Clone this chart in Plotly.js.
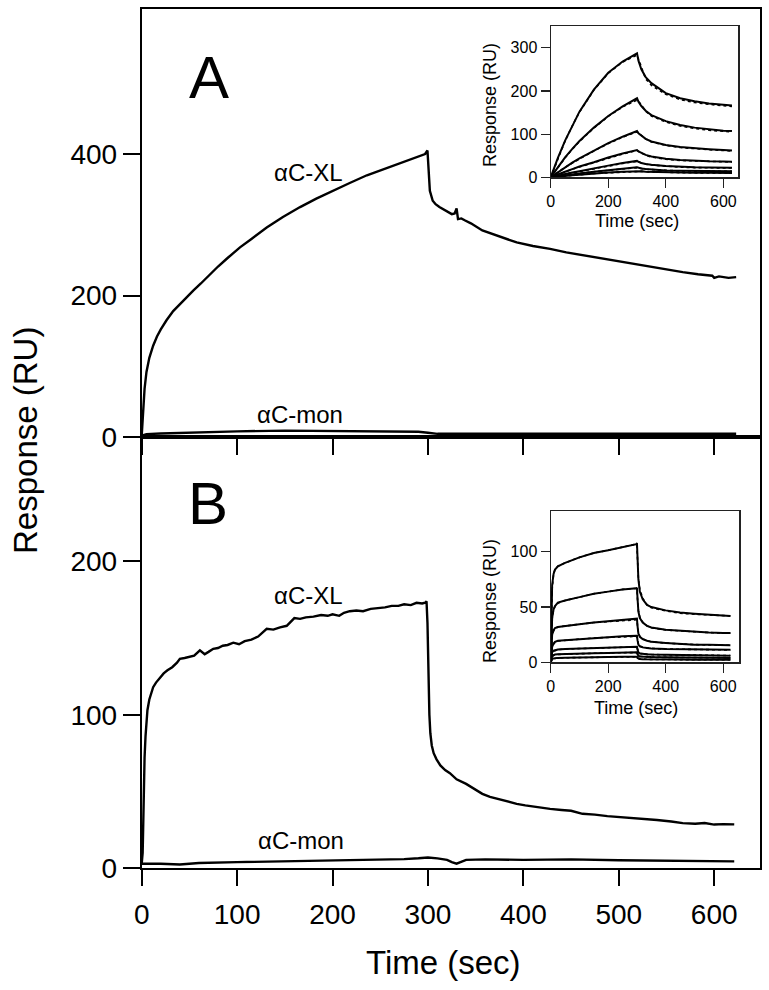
<!DOCTYPE html>
<html>
<head>
<meta charset="utf-8">
<script src="https://cdn.plot.ly/plotly-3.0.1.min.js"></script>
<style>html,body{margin:0;padding:0;background:#fff;}#chart{width:769px;height:990px;}</style>
</head>
<body>
<div id="chart"></div>
<script>
// ---------- Panel A (main) ----------
const timeA_XL = [0,0.5,1,2,3,5,8,12,16,20,26,33,40,47,54,62,70,80,90,103,115,131,148,166,183,200,218,236,252,269,280,290,297,299.5,300.5,302,305,308,312,318,325,328,330,331.5,335,339,345,357,375,393,410,428,445,462,488,515,540,567,583,598,600,605,615,623];
const respA_XL = [2,12,28,50,68,92,112,129,142,152,165,178,188,198,207,217,228,241,253,268,280,296,311,325,337,348,359,370,378,386,391,396,400,405,372,348,334,329,325,320,315,316,323,308,309,306,302,292,283,275,270,266,261,257,251,245,239,233,230,228,225,227,225,226];
const timeA_mon = [0,5,20,50,100,150,200,250,290,300,310,350,400,450,500,550,600,623];
const respA_mon = [2,4,5,6.5,8,9,8.5,8,7.5,6,4.5,4.5,4.5,4.8,4.5,4.8,4.5,4.5];

// ---------- Panel B (main) ----------
const timeB_XL = [0,0.5,1,1.5,2,2.5,3,4,5,6,8,10,12,15,19,23,27,32,37,40,45,50,55,61,66,70,75,80,85,90,96,102,108,115,122,131,138,145,152,160,166,172,180,188,195,200,207,212,218,225,232,240,248,255,262,269,275,282,288,294,297,298.5,299.5,300.5,301.5,302.5,304,306,309,313,318,323,330,340,348,357,365,375,385,393,402,412,428,440,450,462,475,488,500,515,528,540,555,567,580,590,600,610,621];
const respB_XL = [3,5,10,25,45,60,72,86,96,103,110,114,118,121,124,127,129,131,134,136.5,137,138,138.5,142,139.5,141,143,143.5,145,145.5,147,146,148,149,151,156,155.5,157,158,163,162.5,163.5,164,165,164.5,165.5,164.5,166.5,167.5,168,167.5,169,169.5,170,171,171,172,171.5,173,172.5,173,174,160,120,100,88,80,75,71,67,64,62,58,55,52,48.5,46.5,45,43,42,41,40,38.7,38,37.5,35.5,35,34,33.5,32.5,32,31.5,30.5,29.4,29,29.5,28.5,28.8,28.6];
const timeB_mon = [0,20,40,60,100,150,200,250,275,290,300,310,320,325,330,340,360,400,450,500,550,600,621];
const respB_mon = [3,3,2.5,3.5,4,4.5,5,5.5,6,6.5,7,6.5,5.5,4,3,5.5,5.8,5.5,5.8,5.2,5,4.8,4.5];

// ---------- Inset A: sensorgrams (solid) and fits (dotted) ----------
const timeInsetA = [0,25,50,75,100,150,200,250,300,305,315,330,350,400,450,500,550,600,630];
const insetA_data = [
  [0,45,85,120,152,203,242,268,287,270,250,232,218,195,183,176,171,168,166],
  [0,24,46,66,84,115,142,164,183,175,165,154,144,130,121,115,111,108,107],
  [0,12,24,34,44,62,79,94,107,102,96,89,83,75,70,67,65,63,62],
  [0,7,13,19,25,35,46,55,63,60,56,52,48,43,40,38,37,36.5,36],
  [0,4,8,11,14,21,27,33,38,36,33,31,29,26,24,23,22.5,22,22],
  [0,2.5,5,7,9,13,17,20,23,22,20.5,19,18,16,15,14.5,14,14,14],
  [0,2,3.5,5,6,9,11,13,15,14.5,14,13,12.5,11.5,11,10.5,10.3,10,10]
];
const insetA_fit = [
  [0,44,84,119,151,202,241,267,283,274,254,228,213,192,180,173,169,166,164],
  [0,23,45,65,83,114,141,163,179,177,167,153,142,128,119,113,109,106,105],
  [0,12,23,33,43,61,78,93,105,103,97,89,82,74,69,66,64,62,61],
  [0,6.5,12.5,18.5,24,34,45,54,62,60,56,51,47,42,39,37.5,36.5,36,35.5],
  [0,4,7.5,10.5,13.5,20,26,32,37,36,33,30.5,28.5,25.5,23.5,22.5,22,21.5,21.5],
  [0,2.5,4.8,6.8,8.8,12.8,16.5,19.8,22.5,22,20.3,18.8,17.8,15.8,14.8,14.3,13.9,13.8,13.8],
  [0,1.8,3.4,4.8,5.8,8.8,10.8,12.8,14.8,14.4,13.8,12.9,12.3,11.3,10.8,10.4,10.2,10,9.9]
];

// ---------- Inset B ----------
const timeInsetB = [0,2,5,10,15,25,50,100,150,200,250,298,300,302,305,310,320,335,350,400,450,500,550,600,625];
const insetB_data = [
  [0,40,70,80,84,87,90,95,99,101.5,104.5,107,108,95,75,64,57,52,50,47,45,44,43,42.5,42],
  [0,22,40,48,51,54,56,59,62,64,66,67,67.5,58,46,40,36,33,31.5,29.5,28.5,27.5,27,26.5,26.5],
  [0,14,25,29,31,32,33,34.5,36,37,38,39,39.5,33,26,23,21,19.5,18.5,17.5,16.5,16,15.8,15.5,15.5],
  [0,8,14,17,18.5,19.5,20,21,22,22.5,23.5,24,24,20,16,14.5,13.5,13,12.5,12,11.8,11.5,11.5,11.3,11.3],
  [0,5,9,10.5,11,11.5,12,12.5,13,13.5,14,14,14,11.5,9,8,7.5,7.2,7,6.8,6.5,6.5,6.3,6.2,6],
  [0,3,5.5,6.5,7,7.2,7.5,8,8.2,8.5,8.8,9,9,7.5,6,5.2,5,4.8,4.7,4.5,4.3,4.2,4.2,4.1,4],
  [0,2,3,3.5,3.8,4,4.2,4.5,4.7,4.8,5,5,5,4,3.3,3,2.8,2.7,2.6,2.5,2.5,2.4,2.4,2.3,2.3]
];
const insetB_fit = [
  [0,38,66,80,84,87,90,95,99,101.5,104.5,107,105,92,76,66,58,52,49.5,46.5,44.5,43.5,42.7,42.3,42],
  [0,21,39,47.5,50.5,53.5,56,59,62,64,66,67,66,57,47,41,36.5,33,31.3,29.3,28.3,27.4,26.9,26.5,26.4],
  [0,13,24,28.5,30.5,32,33,34.5,36,37,38,39,38.5,33,27,23.5,21.2,19.6,18.6,17.4,16.5,16,15.7,15.5,15.4],
  [0,7.5,13.5,16.5,18,19.3,20,21,22,22.5,23.3,24,23.5,20,16.5,14.8,13.7,13,12.6,12,11.7,11.5,11.4,11.3,11.2],
  [0,4.8,8.6,10.2,10.8,11.4,12,12.5,13,13.4,13.8,14,13.8,11.6,9.3,8.2,7.6,7.2,7,6.8,6.5,6.4,6.3,6.2,6.1],
  [0,2.8,5.2,6.3,6.8,7.1,7.4,7.9,8.2,8.5,8.7,8.9,8.8,7.6,6.2,5.4,5.1,4.9,4.7,4.5,4.3,4.2,4.2,4.1,4],
  [0,1.8,2.9,3.4,3.7,3.9,4.1,4.4,4.6,4.8,4.9,5,4.9,4.1,3.4,3.1,2.9,2.7,2.6,2.5,2.5,2.4,2.4,2.3,2.3]
];

// ---------- labels ----------
const panelLabels = ['A','B'];
const seriesLabels = ['αC-XL','αC-mon'];
const axisTitleY = 'Response (RU)';
const axisTitleX = 'Time (sec)';
const mainTicksX = [0,100,200,300,400,500,600];
const mainTicksYA = [0,200,400];
const mainTicksYB = [0,100,200];
const insetTicksX = [0,200,400,600];
const insetTicksYA = [0,100,200,300];
const insetTicksYB = [0,50,100];

const FONT = 'Liberation Sans, Arial, Helvetica, sans-serif';
const W = 769, H = 990;
const px = v => v / W;
const py = v => 1 - v / H;

const traces = [];
function line(x, y, xa, ya, width, dash) {
  traces.push({x: x, y: y, xaxis: xa, yaxis: ya, type: 'scatter', mode: 'lines',
    line: {color: '#000', width: width, dash: dash || 'solid'}, hoverinfo: 'skip', showlegend: false});
}
line(timeA_XL, respA_XL, 'x', 'y', 2.4);
line(timeA_mon, respA_mon, 'x', 'y', 2.4);
line(timeB_XL, respB_XL, 'x2', 'y2', 2.4);
line(timeB_mon, respB_mon, 'x2', 'y2', 2.4);
insetA_data.forEach(s => line(timeInsetA, s, 'x3', 'y3', 2));
insetA_fit.forEach(s => line(timeInsetA, s, 'x3', 'y3', 1.6, 'dot'));
insetB_data.forEach(s => line(timeInsetB, s, 'x4', 'y4', 2));
insetB_fit.forEach(s => line(timeInsetB, s, 'x4', 'y4', 1.6, 'dot'));

const mainX = {
  domain: [px(141.7), px(760)], range: [0, 648], showline: true, linewidth: 2, linecolor: '#000',
  mirror: true, ticks: 'outside', ticklen: 16, tickwidth: 2, tickcolor: '#000',
  tickvals: mainTicksX, showgrid: false, zeroline: false, fixedrange: true,
  tickfont: {family: FONT, size: 28, color: '#000'}
};
function ann(text, x, y, size, angle) {
  return {text: text, xref: 'paper', yref: 'paper', x: px(x), y: py(y), xanchor: 'center', yanchor: 'middle',
    textangle: angle || 0, showarrow: false, font: {family: FONT, size: size, color: '#000'}};
}
const layout = {
  width: W, height: H, margin: {l: 0, r: 0, t: 0, b: 0},
  paper_bgcolor: '#fff', plot_bgcolor: 'rgba(0,0,0,0)', showlegend: false,
  font: {family: FONT, color: '#000'},
  xaxis: Object.assign({}, mainX, {anchor: 'y', showticklabels: false}),
  yaxis: {domain: [py(437), py(9)], range: [0, 605], anchor: 'x', showline: true, linewidth: 2, linecolor: '#000',
    mirror: true, ticks: 'outside', ticklen: 17, tickwidth: 2, tickcolor: '#000', tickvals: mainTicksYA,
    showgrid: false, zeroline: false, tickfont: {family: FONT, size: 28, color: '#000'}},
  xaxis2: Object.assign({}, mainX, {anchor: 'y2', ticklabelstandoff: 4}),
  yaxis2: {domain: [py(868.3), py(437)], range: [0, 281], anchor: 'x2', showline: true, linewidth: 2, linecolor: '#000',
    mirror: true, ticks: 'outside', ticklen: 17, tickwidth: 2, tickcolor: '#000', tickvals: mainTicksYB,
    showgrid: false, zeroline: false, tickfont: {family: FONT, size: 28, color: '#000'}},
  xaxis3: {domain: [px(550.7), px(738.3)], range: [0, 652], anchor: 'y3', showline: true, linewidth: 1.2, linecolor: '#222',
    mirror: true, ticks: 'outside', ticklen: 9, tickwidth: 1.2, tickcolor: '#222', tickvals: insetTicksX,
    showgrid: false, zeroline: false, tickfont: {family: FONT, size: 16, color: '#000'}},
  yaxis3: {domain: [py(177.3), py(25.7)], range: [0, 351], anchor: 'x3', showline: true, linewidth: 1.2, linecolor: '#222',
    mirror: true, ticks: 'outside', ticklen: 9, tickwidth: 1.2, tickcolor: '#222', tickvals: insetTicksYA,
    showgrid: false, zeroline: false, tickfont: {family: FONT, size: 16, color: '#000'}},
  xaxis4: {domain: [px(550.7), px(739.3)], range: [0, 656], anchor: 'y4', showline: true, linewidth: 1.2, linecolor: '#222',
    mirror: true, ticks: 'outside', ticklen: 9, tickwidth: 1.2, tickcolor: '#222', tickvals: insetTicksX,
    showgrid: false, zeroline: false, tickfont: {family: FONT, size: 16, color: '#000'}},
  yaxis4: {domain: [py(662.3), py(511)], range: [0, 137], anchor: 'x4', showline: true, linewidth: 1.2, linecolor: '#222',
    mirror: true, ticks: 'outside', ticklen: 9, tickwidth: 1.2, tickcolor: '#222', tickvals: insetTicksYB,
    showgrid: false, zeroline: false, tickfont: {family: FONT, size: 16, color: '#000'}},
  annotations: [
    ann(panelLabels[0], 209, 78, 60),
    ann(panelLabels[1], 207.5, 503, 60),
    ann(seriesLabels[0], 308, 172, 24),
    ann(seriesLabels[1], 300, 414, 24),
    ann(seriesLabels[0], 308, 595, 24),
    ann(seriesLabels[1], 301, 840, 24),
    ann(axisTitleY, 25, 441, 33, -90),
    ann(axisTitleX, 443, 962, 33),
    ann(axisTitleY, 490, 105, 18, -90),
    ann(axisTitleX, 637, 221, 18),
    ann(axisTitleY, 490, 601, 18, -90),
    ann(axisTitleX, 636, 708, 18)
  ]
};
Plotly.newPlot('chart', traces, layout, {staticPlot: true, displayModeBar: false});
</script>
</body>
</html>
